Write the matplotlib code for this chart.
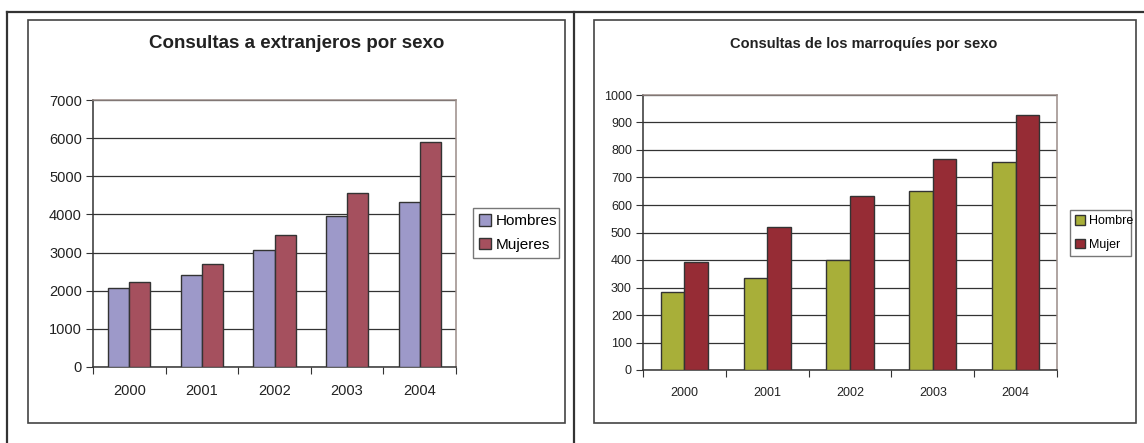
import matplotlib
matplotlib.use('Agg')
import matplotlib.pyplot as plt
from matplotlib.patches import Rectangle
from matplotlib.lines import Line2D
from matplotlib import font_manager
import numpy as np

years = ['2000', '2001', '2002', '2003', '2004']

# left chart: foreigners
ext_hombres = [2060, 2410, 3080, 3950, 4330]
ext_mujeres = [2220, 2700, 3470, 4560, 5900]

# right chart: moroccans
mar_hombre = [284, 335, 400, 650, 757]
mar_mujer = [391, 520, 633, 767, 927]

names = [f.name for f in font_manager.fontManager.ttflist]
narrow = 'Liberation Sans Narrow' if 'Liberation Sans Narrow' in names else 'Liberation Sans'
plt.rcParams['font.family'] = ['Liberation Sans', 'DejaVu Sans']

W, H = 1144, 443
fig = plt.figure(figsize=(W / 100, H / 100), dpi=100)


def box(x0, y0, x1, y1):
    # pixel coords (top-left origin) -> figure fraction
    return [x0 / W, 1 - y1 / H, (x1 - x0) / W, (y1 - y0) / H]


# page lines
fig.add_artist(Line2D([7 / W, 1], [1 - 12 / H, 1 - 12 / H], color='#333333', lw=1.6))
fig.add_artist(Line2D([7 / W, 7 / W], [0, 1 - 12 / H], color='#333333', lw=1.6))
fig.add_artist(Line2D([574 / W, 574 / W], [0, 1 - 12 / H], color='#333333', lw=1.6))

# chart frames
for x0, x1 in [(28, 565), (594, 1136)]:
    b = box(x0, 20, x1, 423)
    fig.add_artist(Rectangle((b[0], b[1]), b[2], b[3], transform=fig.transFigure,
                             fill=False, edgecolor='#444444', lw=1.2))


def bar_chart(rect, h_vals, m_vals, colors, labels, ymax, step, width, font, fs, leg_fs, leg_sp,
              title, title_fs, title_xy, leg_rect):
    ax = fig.add_axes(box(*rect))
    x = np.arange(len(years))
    ax.bar(x - width / 2, h_vals, width, color=colors[0], edgecolor='#333333', lw=1, zorder=3,
           label=labels[0])
    ax.bar(x + width / 2, m_vals, width, color=colors[1], edgecolor='#333333', lw=1, zorder=3,
           label=labels[1])
    ax.set_xlim(-0.5, len(years) - 0.5)
    ax.set_ylim(0, ymax)
    ax.set_yticks(np.arange(0, ymax + 1, step))
    ax.yaxis.grid(True, color='#333333', lw=0.9, zorder=1)
    ax.set_axisbelow(True)
    ax.set_xticks(np.arange(-0.5, len(years)), minor=False)
    ax.set_xticklabels([])
    ax.set_xticks(x, minor=True)
    ax.set_xticklabels(years, minor=True)
    ax.tick_params(axis='x', which='major', length=5, direction='out', color='#333333')
    ax.tick_params(axis='x', which='minor', length=0, pad=12)
    ax.tick_params(axis='y', length=5, direction='out', color='#333333', pad=3)
    for lab in ax.get_yticklabels() + ax.get_xticklabels(minor=True):
        lab.set_fontfamily(font)
        lab.set_fontsize(fs)
        lab.set_color('#222222')
    for s in ['left', 'bottom']:
        ax.spines[s].set_color('#333333')
        ax.spines[s].set_linewidth(1.1)
    for s in ['top', 'right']:
        ax.spines[s].set_color('#9a8c88')
        ax.spines[s].set_linewidth(1.1)
    fig.text(title_xy[0] / W, 1 - title_xy[1] / H, title, ha='center', va='center',
             fontsize=title_fs, fontweight='bold', fontfamily=font, color='#222222')
    lax = fig.add_axes(box(*leg_rect))
    lax.axis('off')
    handles, labs = ax.get_legend_handles_labels()
    leg = lax.legend(handles, labs, loc='center', mode='expand', bbox_to_anchor=(0, 0, 1, 1),
                     frameon=True, fancybox=False, edgecolor='#555555',
                     prop={'family': font, 'size': leg_fs}, handlelength=0.8, handleheight=0.8,
                     handletextpad=0.3, borderpad=0.4, labelspacing=leg_sp, borderaxespad=0)
    leg.get_frame().set_linewidth(1.0)
    return ax


bar_chart((93, 100, 456, 367), ext_hombres, ext_mujeres, ['#9d99c9', '#a5505e'],
          ['Hombres', 'Mujeres'], 7000, 1000, 0.29, 'Liberation Sans', 10.5, 11, 0.6,
          'Consultas a extranjeros por sexo', 13.5, (297, 44), (473, 204, 559, 262))

bar_chart((643, 95, 1057, 370), mar_hombre, mar_mujer, ['#a8af39', '#962c35'],
          ['Hombre', 'Mujer'], 1000, 100, 0.286, narrow, 9, 9, 0.9,
          'Consultas de los marroquíes por sexo', 10.5, (864, 44), (1070, 206, 1131, 260))

fig.savefig('out.png', dpi=100)
